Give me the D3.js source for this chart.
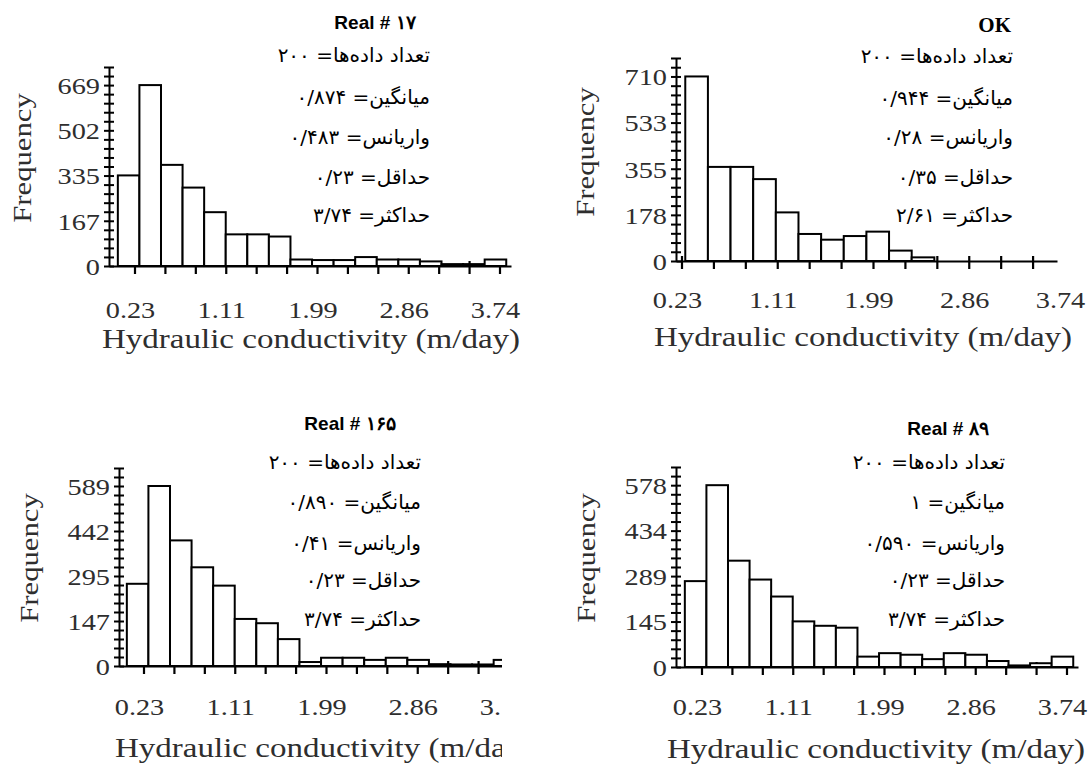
<!DOCTYPE html>
<html>
<head>
<meta charset="utf-8">
<script src="https://d3js.org/d3.v7.min.js"></script>
<style>
  body { margin: 0; background: #fff; }
  svg { display: block; }
  .num { font-family: "Liberation Serif", "Times New Roman", serif; fill: #2e2e2e; }
  .fa { font-family: "DejaVu Sans", sans-serif; fill: #000; }
</style>
</head>
<body>
<div id="chart"></div>
<script>
var svgWidth = 1088;
var svgHeight = 771;

// Shared axis data
var xMajorTicks = [0.23, 1.1075, 1.985, 2.8625, 3.74];
var xTickLabels = ["0.23", "1.11", "1.99", "2.86", "3.74"];
var statNames = ["تعداد داده‌ها", "میانگین", "واریانس", "حداقل", "حداکثر"];
var titles = ["Real # ۱۷", "OK", "Real # ۱۶۵", "Real # ۸۹"];

// Real # 17
var p1Counts = [335, 669, 374, 290, 199, 117, 117, 109, 24, 22, 22, 33, 24, 24, 17, 7, 7, 24];
var p1YTicks = [0, 167, 335, 502, 669];
var p1Stats = ["۲۰۰", "۰/۸۷۴", "۰/۴۸۳", "۰/۲۳", "۳/۷۴"];
var p1Bins = [0.065, 0.2075];

// OK
var p2Counts = [710, 362, 362, 315, 187, 104, 82, 96, 113, 40, 14];
var p2YTicks = [0, 178, 355, 533, 710];
var p2Stats = ["۲۰۰", "۰/۹۴۴", "۰/۲۸", "۰/۳۵", "۲/۶۱"];
var p2Bins = [0.26, 0.2075];

// Real # 165
var p3Counts = [269, 589, 411, 323, 263, 154, 140, 88, 13, 27, 27, 20, 27, 20, 6, 5, 5, 20];
var p3YTicks = [0, 147, 295, 442, 589];
var p3Stats = ["۲۰۰", "۰/۸۹۰", "۰/۴۱", "۰/۲۳", "۳/۷۴"];
var p3Bins = [0.065, 0.2075];

// Real # 89
var p4Counts = [273, 578, 338, 278, 224, 145, 131, 125, 33, 44, 39, 25, 44, 39, 19, 5, 12, 33];
var p4YTicks = [0, 145, 289, 434, 578];
var p4Stats = ["۲۰۰", "۱", "۰/۵۹۰", "۰/۲۳", "۳/۷۴"];
var p4Bins = [0.065, 0.2075];

var panels = [
  { counts: p1Counts, yTicks: p1YTicks, stats: p1Stats, bins: p1Bins, title: titles[0],
    axisX: 109, xA: 135, xB: 500, axisEnd: 511, base: 266, yMaxPx: 67, labelBase: 318,
    titleX: 311, titleBase: 348, freqX: 31, freqY: 158, statsX: 430, statsY: [55, 97, 137, 177, 215],
    headX: 375, headY: 22, headAnchor: "middle", headSerif: false },
  { counts: p2Counts, yTicks: p2YTicks, stats: p2Stats, bins: p2Bins, title: titles[1],
    axisX: 676, xA: 682, xB: 1065, axisEnd: 1057, base: 261, yMaxPx: 58, labelBase: 308,
    titleX: 863, titleBase: 346, freqX: 594, freqY: 152, statsX: 1013, statsY: [56, 98, 137, 177, 215],
    headX: 1011, headY: 25, headAnchor: "end", headSerif: true },
  { counts: p3Counts, yTicks: p3YTicks, stats: p3Stats, bins: p3Bins, title: titles[2],
    axisX: 119, xA: 144, xB: 509, axisEnd: 520, base: 666, yMaxPx: 468, labelBase: 715,
    titleX: 324, titleBase: 757, freqX: 38, freqY: 558, statsX: 421, statsY: [462, 502, 543, 580, 619],
    headX: 350, headY: 423, headAnchor: "middle", headSerif: false, clip: 502 },
  { counts: p4Counts, yTicks: p4YTicks, stats: p4Stats, bins: p4Bins, title: titles[3],
    axisX: 676, xA: 702, xB: 1067, axisEnd: 1078, base: 667, yMaxPx: 467, labelBase: 715,
    titleX: 876, titleBase: 758, freqX: 595, freqY: 558, statsX: 1005, statsY: [462, 502, 543, 580, 619],
    headX: 948, headY: 428, headAnchor: "middle", headSerif: false }
];

var stretch = 1.18;

var svg = d3.select("#chart")
  .append("svg")
  .attr("width", svgWidth)
  .attr("height", svgHeight);

svg.append("defs").append("clipPath")
  .attr("id", "clip3")
  .append("rect")
  .attr("x", 0).attr("y", 380).attr("width", 502).attr("height", 391);

panels.forEach(function(p, idx) {
  var g = svg.append("g");
  if (p.clip) g.attr("clip-path", "url(#clip3)");

  // x scale through two reference ticks, then widened to the axis line
  var xScale = d3.scaleLinear().domain([0.23, 3.74]).range([p.xA, p.xB]);
  xScale.domain([xScale.invert(p.axisX), xScale.invert(p.axisEnd)]).range([p.axisX, p.axisEnd]);

  var yMax = p.yTicks[p.yTicks.length - 1];
  var yScale = d3.scaleLinear().domain([0, yMax]).range([p.base, p.yMaxPx]);
  var yTop = yMax * 1.1;
  yScale.domain([0, yTop]).range([p.base, yScale(yTop)]);

  // X ticks: three per labelled interval, crossing the axis (bars cover the upper half)
  var xTicks = [];
  xMajorTicks.forEach(function(v, i) {
    xTicks.push(v);
    if (i < xMajorTicks.length - 1) {
      var step = (xMajorTicks[i + 1] - v) / 3;
      xTicks.push(v + step, v + 2 * step);
    }
  });
  var shownTicks = xTicks.filter(v => xScale(v) <= p.axisEnd);

  var tickPath = shownTicks.map(v => `M${xScale(v)},${p.base - 5}V${p.base + 8}`).join("");
  g.append("path")
    .attr("class", "xticks")
    .attr("d", tickPath)
    .attr("fill", "none")
    .attr("stroke", "#000")
    .attr("stroke-width", 2.2);

  // Bars
  var b0 = p.bins[0], bw = p.bins[1];
  g.selectAll(".bar")
    .data(p.counts)
    .join("rect")
    .attr("class", "bar")
    .attr("x", (d, i) => xScale(b0 + i * bw))
    .attr("width", (d, i) => xScale(b0 + (i + 1) * bw) - xScale(b0 + i * bw))
    .attr("y", d => yScale(d))
    .attr("height", d => p.base - yScale(d))
    .attr("fill", "#fff")
    .attr("stroke", "#000")
    .attr("stroke-width", 2);

  // X axis line and labels
  var xLabelAxis = d3.axisBottom(xScale)
    .tickValues(xMajorTicks)
    .tickSize(0)
    .tickSizeOuter(0)
    .tickFormat((d, i) => xTickLabels[i]);
  var xl = g.append("g")
    .attr("transform", `translate(0, ${p.base})`)
    .call(xLabelAxis);
  xl.select(".domain").attr("stroke", "#000").attr("stroke-width", 2);
  xl.selectAll(".tick line").remove();
  xl.selectAll(".tick text")
    .attr("class", "num")
    .attr("font-size", 24)
    .attr("y", p.labelBase - p.base)
    .attr("dy", 0)
    .attr("x", -5 / stretch)
    .attr("transform", `scale(${stretch},1)`)
    .attr("fill", "#2e2e2e");

  // Y axis: cross ticks every twentieth of the max
  var yMinor = d3.range(0, 23).map(k => yMax * k / 20);
  var yAxisTicks = d3.axisLeft(yScale)
    .tickValues(yMinor)
    .tickSizeInner(5)
    .tickSizeOuter(0)
    .tickFormat("");
  var yg = g.append("g")
    .attr("transform", `translate(${p.axisX}, 0)`)
    .call(yAxisTicks);
  yg.selectAll("path, line").style("stroke", "#000").style("stroke-width", "2px");
  yg.selectAll(".tick line").attr("x1", 5);

  var yAxisLabels = d3.axisLeft(yScale)
    .tickValues(p.yTicks)
    .tickSize(0)
    .tickPadding(0)
    .tickFormat(d3.format("d"));
  var yl = g.append("g")
    .attr("transform", `translate(${p.axisX}, 0)`)
    .call(yAxisLabels);
  yl.select(".domain").remove();
  yl.selectAll(".tick text")
    .attr("class", "num")
    .attr("font-size", 24)
    .attr("x", -9 / stretch)
    .attr("dy", "0.35em")
    .attr("transform", `scale(${stretch},1)`)
    .attr("fill", "#2e2e2e");

  // Axis titles
  g.append("g")
    .attr("transform", `translate(${p.titleX}, ${p.titleBase}) scale(${stretch},1)`)
    .append("text")
    .attr("class", "num")
    .attr("font-size", 28)
    .attr("text-anchor", "middle")
    .text("Hydraulic conductivity (m/day)");

  g.append("g")
    .attr("transform", `translate(${p.freqX}, ${p.freqY}) rotate(-90) scale(${stretch},1)`)
    .append("text")
    .attr("class", "num")
    .attr("font-size", 26)
    .attr("text-anchor", "middle")
    .text("Frequency");

  // Panel heading
  svg.append("text")
    .attr("x", p.headX)
    .attr("y", p.headY)
    .attr("dy", "0.35em")
    .attr("text-anchor", p.headAnchor)
    .attr("font-family", p.headSerif ? "Liberation Serif, serif" : "Liberation Sans, Arial, sans-serif")
    .attr("font-weight", "bold")
    .attr("font-size", p.headSerif ? 21 : 19)
    .attr("fill", "#000")
    .style("direction", "ltr")
    .text(p.title);

  // Persian statistics (number kept as a left-to-right isolate)
  svg.selectAll(".stat" + idx)
    .data(p.stats)
    .join("text")
    .attr("class", "fa stat" + idx)
    .attr("x", p.statsX)
    .attr("y", (d, i) => p.statsY[i])
    .attr("dy", "0.35em")
    .attr("font-size", 20)
    .attr("text-anchor", "start")
    .style("direction", "rtl")
    .text((d, i) => statNames[i] + "= \u2066" + d + "\u2069");
});
</script>
</body>
</html>
